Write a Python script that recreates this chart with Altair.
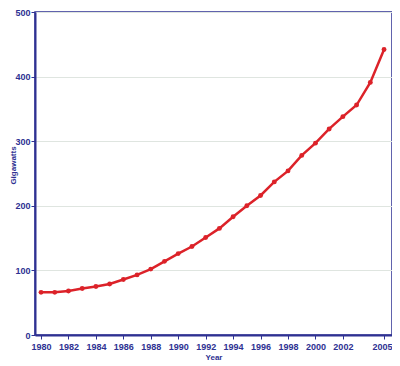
import altair as alt
import pandas as pd

years = list(range(1980, 2006))
gigawatts = [66, 66, 68, 72, 75, 79, 86, 93, 102, 114, 126, 137, 151, 165, 183,
             200, 216, 237, 254, 278, 297, 319, 338, 356, 391, 442]
x_ticks = [1980, 1982, 1984, 1986, 1988, 1990, 1992, 1994, 1996, 1998, 2000, 2002, 2005]
y_ticks = [0, 100, 200, 300, 400, 500]

df = pd.DataFrame({"Year": years, "Gigawatts": gigawatts})

navy = "#2e3192"
red = "#dc2229"

x = alt.X("Year:Q",
          scale=alt.Scale(domain=[1979.56, 2005.58], nice=False, zero=False),
          axis=alt.Axis(values=x_ticks, format="d", title="Year", grid=False,
                        labelFlush=False, titlePadding=2, labelPadding=3,
                        labelOffset=alt.ExprRef("datum.value == 2005 ? -2 : 0")))
y = alt.Y("Gigawatts:Q",
          scale=alt.Scale(domain=[0, 500], nice=False),
          axis=alt.Axis(values=y_ticks, title="Gigawatts", grid=True,
                        labelPadding=1, titleX=-18, titleY=153,
                        titleBaseline="bottom", titleAngle=270))

line = alt.Chart(df).mark_line(color=red, strokeWidth=2.5).encode(x=x, y=y)
pts = alt.Chart(df).mark_circle(color=red, size=24, opacity=1).encode(x=x, y=y)

chart = (line + pts).properties(
    width=357, height=323,
    background="white",
    autosize=alt.AutoSizeParams(type="none"),
    padding={"left": 27, "top": 4, "right": 0, "bottom": 26},
).configure_view(
    stroke=navy, strokeWidth=1.5
).configure_axis(
    domainColor=navy, domainWidth=2, tickColor=navy, tickSize=4, tickWidth=1,
    labelColor=navy, titleColor=navy, labelFont="Liberation Sans", titleFont="Liberation Sans",
    labelFontSize=9, titleFontSize=8, labelFontWeight="bold", titleFontWeight="bold",
    gridColor="#dfe5e0", gridWidth=1.2,
)

chart.save("out.html", embed_options={"renderer": "svg", "actions": False})
